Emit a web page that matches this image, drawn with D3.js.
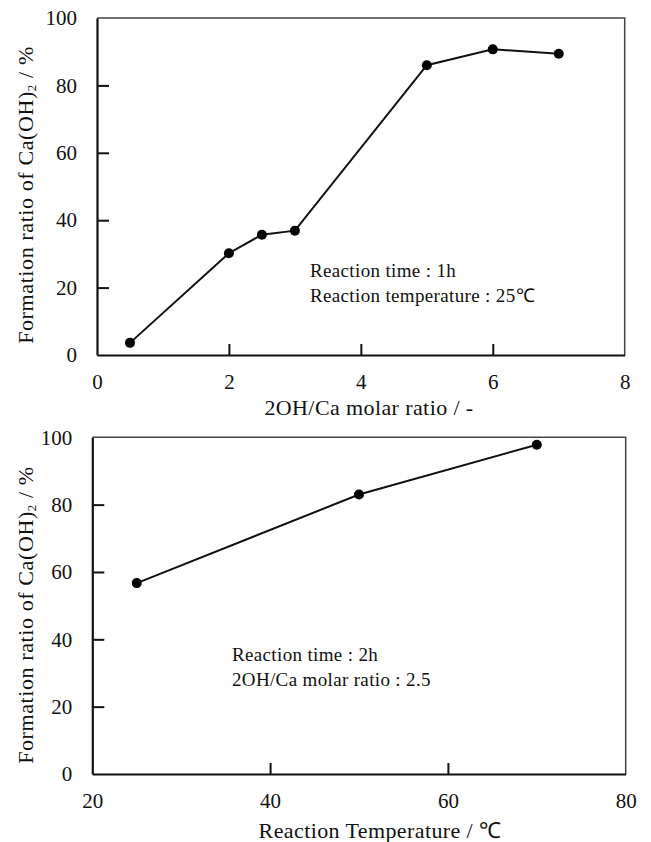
<!DOCTYPE html>
<html><head><meta charset="utf-8">
<script src="https://cdn.jsdelivr.net/npm/d3@7"></script>
<style>body{margin:0;background:#fff} svg{display:block}</style>
</head><body><svg id="c" width="651" height="842"></svg>
<script>
// ---- data ----
const molarRatio = [0.5, 2, 2.5, 3, 5, 6, 7];
const formationByRatio = [3.6, 30.2, 35.7, 36.9, 86.0, 90.7, 89.4];
const reactionTemp = [25, 50, 70];
const formationByTemp = [56.7, 83.0, 97.8];
const ratioTicks = [0, 2, 4, 6, 8];
const tempTicks = [20, 40, 60, 80];
const yTicks = [0, 20, 40, 60, 80, 100];
const notesTop = ["Reaction time : 1h", "Reaction temperature : 25\u2103"];
const notesBottom = ["Reaction time : 2h", "2OH/Ca molar ratio : 2.5"];
const xTitleTop = "2OH/Ca molar ratio / -";
const xTitleBottom = "Reaction Temperature / \u2103";

const FONT = "'Liberation Serif','Times New Roman',Times,serif";
const svg = d3.select("#c");

const panels = [
  {x: molarRatio, y: formationByRatio, xDomain: [0, 8], xTicks: ratioTicks,
   box: {l: 97, r: 624.7, t: 18, b: 355}, notes: notesTop, noteX: 310, noteY: 277,
   xTitle: xTitleTop, xTitleX: 369, xTitleY: 415, yTitleX: 33, yTitleShift: 8.5},
  {x: reactionTemp, y: formationByTemp, xDomain: [20, 80], xTicks: tempTicks,
   box: {l: 92.3, r: 625.7, t: 437.3, b: 774}, notes: notesBottom, noteX: 232, noteY: 661,
   xTitle: xTitleBottom, xTitleX: 380, xTitleY: 838, yTitleX: 33, yTitleShift: 9.4}
];

panels.forEach(p => {
  const xs = d3.scaleLinear().domain(p.xDomain).range([p.box.l, p.box.r]);
  const ys = d3.scaleLinear().domain([0, 100]).range([p.box.b, p.box.t]);
  const g = svg.append("g");

  // frame top/right (thin grey)
  g.append("path")
    .attr("d", `M${p.box.l},${p.box.t}H${p.box.r}V${p.box.b}`)
    .attr("fill", "none").attr("stroke", "#444").attr("stroke-width", 1.5);

  const yAxis = d3.axisLeft(ys).tickValues(yTicks).tickSizeInner(-12).tickSizeOuter(0).tickPadding(20);
  const xAxis = d3.axisBottom(xs).tickValues(p.xTicks).tickSizeInner(-11).tickSizeOuter(0).tickPadding(19);

  const ya = g.append("g").attr("transform", `translate(${p.box.l},0)`).call(yAxis);
  const xa = g.append("g").attr("transform", `translate(0,${p.box.b})`).call(xAxis);
  [ya, xa].forEach(a => {
    a.attr("font-family", FONT).attr("font-size", 21);
    a.select(".domain").attr("stroke", "#111").attr("stroke-width", 2.2);
    a.selectAll(".tick line").attr("stroke", "#111").attr("stroke-width", 2);
    a.selectAll(".tick text").attr("fill", "#111").style("font-family", FONT).style("font-size", "21px");
  });
  ya.selectAll(".tick").filter(d => d === 0 || d === 100).select("line").remove();
  xa.selectAll(".tick").filter(d => d === p.xDomain[0] || d === p.xDomain[1]).select("line").remove();

  // line + markers
  const line = d3.line().x((d, i) => xs(p.x[i])).y(d => ys(d));
  g.append("path").datum(p.y).attr("d", line)
    .attr("fill", "none").attr("stroke", "#111").attr("stroke-width", 2);
  g.selectAll("circle.pt").data(p.y).join("circle").attr("class", "pt")
    .attr("cx", (d, i) => xs(p.x[i])).attr("cy", d => ys(d)).attr("r", 5).attr("fill", "#000");

  // notes
  p.notes.forEach((t, i) => {
    g.append("text").attr("x", p.noteX).attr("y", p.noteY + i * 24.5)
      .style("font-family", FONT).style("font-size", "19px").style("letter-spacing", "0.35px")
      .attr("fill", "#111").text(t);
  });

  // x title
  g.append("text").attr("x", p.xTitleX).attr("y", p.xTitleY).attr("text-anchor", "middle")
    .style("font-family", FONT).style("font-size", "22px").style("letter-spacing", "0.4px")
    .attr("fill", "#111").text(p.xTitle);

  // y title
  const cy = (p.box.t + p.box.b) / 2 + p.yTitleShift;
  const yt = g.append("text").attr("transform", `translate(${p.yTitleX},${cy}) rotate(-90)`)
    .attr("text-anchor", "middle")
    .style("font-family", FONT).style("font-size", "22px").style("letter-spacing", "0.6px")
    .attr("fill", "#111");
  yt.append("tspan").text("Formation ratio of Ca(OH)");
  yt.append("tspan").attr("dy", 3).style("font-size", "13px").text("2");
  yt.append("tspan").attr("dy", -3).text(" / %");
});
</script></body></html>
